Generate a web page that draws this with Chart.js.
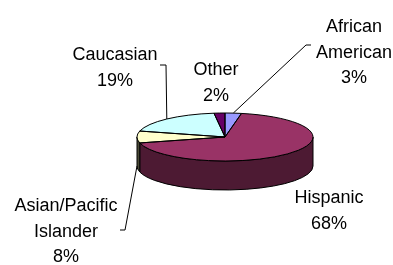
<!DOCTYPE html>
<html>
<head>
<meta charset="utf-8">
<style>
    html, body { margin: 0; padding: 0; background: #fff; }
    canvas { display: block; }
</style>
<script src="https://cdn.jsdelivr.net/npm/chart.js@4.4.1/dist/chart.umd.min.js"></script>
</head>
<body>
<canvas id="ethnicity-pie" width="393" height="265"></canvas>
<script>
// ─── Data ─────────────────────────────────────────────

const CATEGORIES  = ['African American', 'Hispanic', 'Asian/Pacific Islander', 'Caucasian', 'Other'];
const LABEL_LINES = [['African', 'American'], ['Hispanic'], ['Asian/Pacific', 'Islander'], ['Caucasian'], ['Other']];
const SHARES      = [3, 68, 8, 19, 2];

// ─── Styling ──────────────────────────────────────────

const TOP_COLORS  = ['#9999FF', '#993366', '#FFFFCC', '#CCFFFF', '#660066'];
const SIDE_COLORS = ['#4D4D80', '#4D1A33', '#4A4A36', '#668080', '#330033'];
const TILT   = 24 / 88;   // vertical squash of the top face
const DEPTH  = 29;        // height of the pie's side wall
const FONT   = "18px 'Liberation Sans', Arial, sans-serif";
const LINE_H = 25.5;

// label centre x / first baseline, plus leader elbows (annotation only)
const LABEL_LAYOUT = [
    { x: 354, y: 32,  leader: [[306, 45], [311, 45]] },
    { x: 329, y: 203 },
    { x: 66,  y: 211, fromSide: true, leader: [[125, 230], [120, 230]] },
    { x: 115, y: 60,  leader: [[166, 65], [160, 65]] },
    { x: 216, y: 75 },
];

// ─── 3D pie plugin ────────────────────────────────────

const pie3d = {
    id: 'pie3d',
    beforeDatasetsDraw(chart) {
        const ctx  = chart.ctx;
        const arcs = chart.getDatasetMeta(0).data;
        const { x: cx, y: cy, outerRadius: r } = arcs[0];
        const ry = r * TILT;

        // side walls, only the front half is visible
        ctx.save();
        ctx.lineWidth = 1;
        ctx.strokeStyle = '#000';
        arcs.forEach((arc, i) => {
            const s = Math.max(arc.startAngle, 0);
            const e = Math.min(arc.endAngle, Math.PI);
            if (e <= s) return;
            ctx.beginPath();
            ctx.ellipse(cx, cy, r, ry, 0, s, e);
            ctx.ellipse(cx, cy + DEPTH, r, ry, 0, e, s, true);
            ctx.closePath();
            ctx.fillStyle = SIDE_COLORS[i];
            ctx.fill();
            ctx.stroke();
        });
        ctx.restore();

        // squash the library's own arcs into the top face
        ctx.save();
        ctx.translate(cx, cy);
        ctx.scale(1, TILT);
        ctx.translate(-cx, -cy);
    },
    afterDatasetsDraw(chart) {
        const ctx = chart.ctx;
        ctx.restore();

        const arcs = chart.getDatasetMeta(0).data;
        const { x: cx, y: cy, outerRadius: r } = arcs[0];
        const ry = r * TILT;

        ctx.save();
        ctx.lineWidth = 1;
        ctx.strokeStyle = '#000';
        arcs.forEach(arc => {
            ctx.beginPath();
            ctx.moveTo(cx, cy);
            ctx.ellipse(cx, cy, r, ry, 0, arc.startAngle, arc.endAngle);
            ctx.closePath();
            ctx.stroke();
        });

        // labels + leader lines
        ctx.font = FONT;
        ctx.fillStyle = '#000';
        ctx.textAlign = 'center';
        ctx.textBaseline = 'alphabetic';
        arcs.forEach((arc, i) => {
            const lay = LABEL_LAYOUT[i];
            const lines = [...LABEL_LINES[i], `${SHARES[i]}%`];
            lines.forEach((t, j) => ctx.fillText(t, lay.x, lay.y + j * LINE_H));

            if (!lay.leader) return;
            const mid = (arc.startAngle + arc.endAngle) / 2;
            const ax = cx + r * Math.cos(mid);
            const ay = cy + ry * Math.sin(mid) + (lay.fromSide ? DEPTH : 0);
            ctx.beginPath();
            ctx.moveTo(ax, ay);
            lay.leader.forEach(([x, y]) => ctx.lineTo(x, y));
            ctx.stroke();
        });
        ctx.restore();
    },
};

// ─── Chart ────────────────────────────────────────────

new Chart(document.getElementById('ethnicity-pie'), {
    type: 'pie',
    data: {
        labels: CATEGORIES,
        datasets: [{
            data: SHARES,
            backgroundColor: TOP_COLORS,
            borderWidth: 0,
            hoverOffset: 0,
            clip: false,
        }],
    },
    options: {
        responsive: false,
        animation: false,
        events: [],
        layout: { padding: { left: 137, right: 80, top: 49, bottom: 40 } },
        plugins: {
            legend:  { display: false },
            tooltip: { enabled: false },
        },
    },
    plugins: [pie3d],
});
</script>
</body>
</html>
